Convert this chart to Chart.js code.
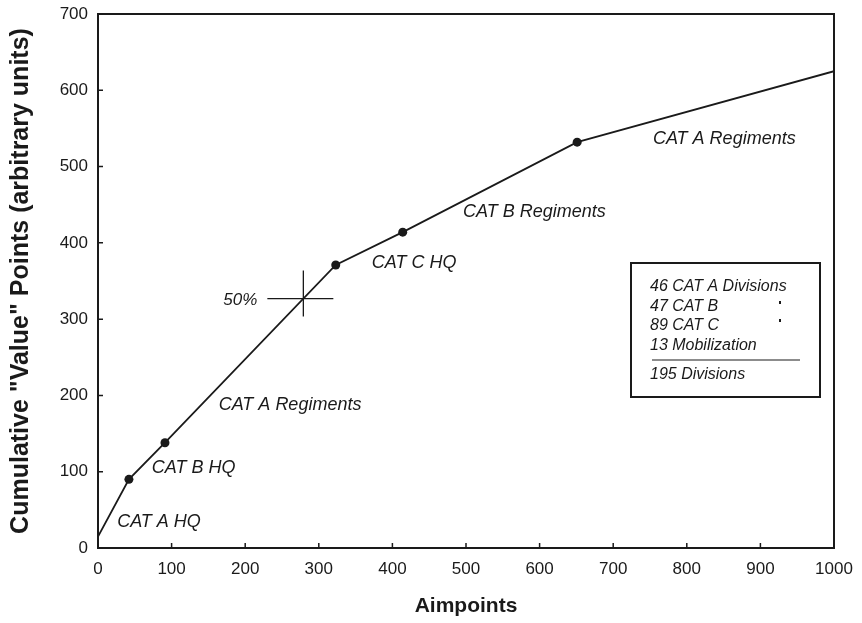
<!DOCTYPE html>
<html>
<head>
<meta charset="utf-8">
<script src="https://cdn.jsdelivr.net/npm/chart.js@4"></script>
<style>
  html, body { margin: 0; padding: 0; background: #fff; }
  #wrap { width: 862px; height: 623px; }
</style>
</head>
<body>
<div id="wrap"><canvas id="chart" width="862" height="623"></canvas></div>
<script>
// data
const aimpoints = [0, 42, 91, 323, 414, 651, 1000];
const cumValue = [15, 90, 138, 371, 414, 532, 625];
const markedPoints = [false, true, true, true, true, true, false];

// 50% marker on the curve
const halfPoint = { x: 279, y: 327 };

// curve labels (data units, left edge / middle)
const curveLabels = ['CAT A HQ', 'CAT B HQ', 'CAT A Regiments', 'CAT C HQ', 'CAT B Regiments', 'CAT A Regiments'];
const labelX = [26, 73, 164, 372, 496, 754];
const labelY = [34, 105, 187, 374, 440, 536];

// box text
const boxLines = ['46 CAT A Divisions', '47 CAT B', '89 CAT C', '13 Mobilization', '195 Divisions'];

const xTicks = [0, 100, 200, 300, 400, 500, 600, 700, 800, 900, 1000];
const yTicks = [0, 100, 200, 300, 400, 500, 600, 700];

const FONT = '"Liberation Sans", Arial, sans-serif';
const INK = '#1a1a1a';

const decorPlugin = {
  id: 'decor',
  afterDatasetsDraw(chart) {
    const { ctx, chartArea: a, scales: { x, y } } = chart;
    ctx.save();
    ctx.strokeStyle = INK;
    ctx.fillStyle = INK;

    // frame
    ctx.lineWidth = 2;
    ctx.strokeRect(a.left, a.top, a.right - a.left, a.bottom - a.top);

    // inward ticks
    ctx.lineWidth = 1.5;
    ctx.beginPath();
    xTicks.forEach(v => {
      const px = x.getPixelForValue(v);
      ctx.moveTo(px, a.bottom);
      ctx.lineTo(px, a.bottom - 5);
    });
    yTicks.forEach(v => {
      const py = y.getPixelForValue(v);
      ctx.moveTo(a.left, py);
      ctx.lineTo(a.left + 5, py);
    });
    ctx.stroke();

    // 50% cross
    const cx = x.getPixelForValue(halfPoint.x);
    const cy = y.getPixelForValue(halfPoint.y);
    ctx.lineWidth = 1.3;
    ctx.beginPath();
    ctx.moveTo(cx - 36, cy); ctx.lineTo(cx + 30, cy);
    ctx.moveTo(cx, cy - 28); ctx.lineTo(cx, cy + 18);
    ctx.stroke();
    ctx.font = 'italic 17px ' + FONT;
    ctx.textAlign = 'right';
    ctx.textBaseline = 'middle';
    ctx.fillText('50%', cx - 46, cy + 2);

    // curve labels
    ctx.font = 'italic 18px ' + FONT;
    ctx.textAlign = 'left';
    curveLabels.forEach((t, i) => {
      ctx.fillText(t, x.getPixelForValue(labelX[i]), y.getPixelForValue(labelY[i]));
    });

    // summary box
    const bx = a.right - 203, by = a.top + 249, bw = 189, bh = 134;
    ctx.lineWidth = 2;
    ctx.strokeRect(bx, by, bw, bh);
    ctx.font = 'italic 16px ' + FONT;
    const rowY = [24, 44, 63, 83, 112];
    boxLines.forEach((t, i) => ctx.fillText(t, bx + 19, by + rowY[i]));
    // ditto marks
    ctx.fillRect(bx + 148, by + 38, 2, 3);
    ctx.fillRect(bx + 148, by + 56, 2, 3);
    // total rule
    ctx.lineWidth = 1.2;
    ctx.beginPath();
    ctx.moveTo(bx + 21, by + 97);
    ctx.lineTo(bx + 169, by + 97);
    ctx.stroke();

    ctx.restore();
  }
};

new Chart(document.getElementById('chart'), {
  type: 'line',
  data: {
    datasets: [{
      data: aimpoints.map((v, i) => ({ x: v, y: cumValue[i] })),
      borderColor: INK,
      borderWidth: 1.8,
      tension: 0,
      pointRadius: ctx => markedPoints[ctx.dataIndex] ? 4.5 : 0,
      pointBackgroundColor: INK,
      pointBorderWidth: 0
    }]
  },
  options: {
    responsive: false,
    animation: false,
    layout: { padding: { top: 14, right: 28, left: 0, bottom: 0 } },
    plugins: { legend: { display: false }, tooltip: { enabled: false } },
    scales: {
      x: {
        type: 'linear',
        min: 0, max: 1000,
        afterBuildTicks: s => { s.ticks = xTicks.map(v => ({ value: v })); },
        afterFit: s => { s.height = 75; s.paddingLeft = 0; s.paddingRight = 0; },
        grid: { display: false, drawTicks: false },
        border: { display: false },
        ticks: { color: INK, padding: 11, font: { family: FONT, size: 17 }, maxRotation: 0,
          callback: v => String(v) },
        title: { display: true, text: 'Aimpoints', color: INK,
          font: { family: FONT, size: 21, weight: 'bold' }, padding: { top: 0, bottom: 4 } }
      },
      y: {
        type: 'linear',
        min: 0, max: 700,
        afterBuildTicks: s => { s.ticks = yTicks.map(v => ({ value: v })); },
        afterFit: s => { s.width = 98; s.paddingTop = 0; s.paddingBottom = 0; },
        grid: { display: false, drawTicks: false },
        border: { display: false },
        ticks: { color: INK, padding: 10, font: { family: FONT, size: 17 }, callback: v => String(v) },
        title: { display: true, text: 'Cumulative "Value" Points (arbitrary units)', color: INK,
          font: { family: FONT, size: 25, weight: 'bold' }, padding: { top: 6, bottom: 0 } }
      }
    }
  },
  plugins: [decorPlugin]
});
</script>
</body>
</html>
